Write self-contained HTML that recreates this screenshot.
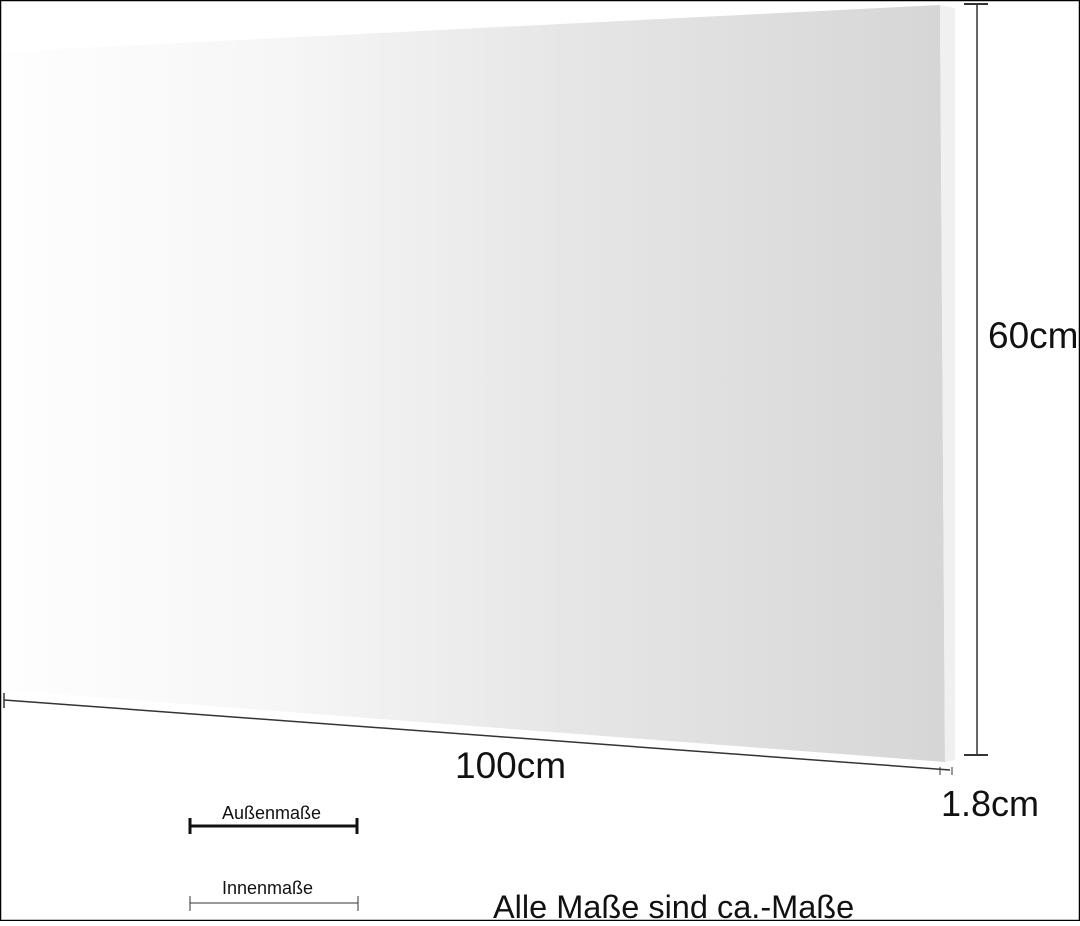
<!DOCTYPE html>
<html><head><style>
html,body{margin:0;padding:0;background:#fff}
body{width:1080px;height:921px;overflow:hidden;position:relative}
text{font-family:"Liberation Sans",sans-serif;fill:#111}
</style></head><body>
<svg width="1080" height="921" viewBox="0 0 1080 921" xmlns="http://www.w3.org/2000/svg">
<defs>
<linearGradient id="g" x1="0" x2="1" y1="0" y2="0">
<stop offset="0" stop-color="#fefefe"/>
<stop offset="0.3" stop-color="#f6f6f6"/>
<stop offset="0.6" stop-color="#e6e6e6"/>
<stop offset="1" stop-color="#d6d6d6"/>
</linearGradient>
</defs>
<rect width="1080" height="921" fill="#fff"/>
<polygon points="0,52 940,5 945,762 0,690" fill="url(#g)"/>
<polygon points="940,5 955,8 955,760 945,762" fill="#f0f0f0"/>
<rect x="0.5" y="0.5" width="1079" height="920" fill="none" stroke="#000" stroke-width="1.5"/>
<g stroke="#333" fill="none">
<line x1="4" y1="700" x2="950" y2="770" stroke-width="1.5"/>
<line x1="4" y1="693" x2="4" y2="708" stroke-width="1.5"/>
<line x1="940" y1="767" x2="940" y2="775"/>
<line x1="952" y1="767" x2="952" y2="775"/>
<line x1="977" y1="4" x2="977" y2="755" stroke-width="1.5"/>
<line x1="964" y1="4" x2="988" y2="4" stroke-width="2"/>
<line x1="964" y1="755" x2="988" y2="755" stroke-width="2"/>
<line x1="190" y1="826" x2="357" y2="826" stroke="#111" stroke-width="3"/>
<line x1="190" y1="818" x2="190" y2="834" stroke="#111" stroke-width="3"/>
<line x1="357" y1="818" x2="357" y2="834" stroke="#111" stroke-width="3"/>
<line x1="190" y1="903" x2="358" y2="903"/>
<line x1="190" y1="896" x2="190" y2="911"/>
<line x1="358" y1="896" x2="358" y2="911"/>
</g>
<text x="988" y="348" font-size="37">60cm</text>
<text x="455" y="778" font-size="37">100cm</text>
<text x="941" y="816" font-size="36">1.8cm</text>
<text x="222" y="819" font-size="18">Außenmaße</text>
<text x="222" y="894" font-size="18">Innenmaße</text>
<text x="493" y="918" font-size="32.5">Alle Maße sind ca.-Maße</text>
</svg>
</body></html>
